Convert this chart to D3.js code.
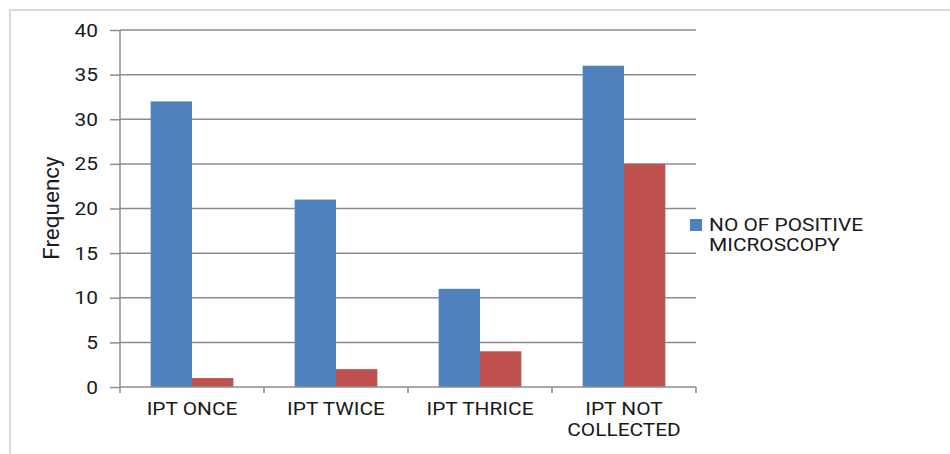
<!DOCTYPE html>
<html><head><meta charset="utf-8">
<script src="https://cdn.jsdelivr.net/npm/d3@7"></script>
<style>body{margin:0;background:#fff}svg{display:block}text{font-family:Roboto,"Liberation Sans",Arial,sans-serif;fill:#1a1a1a}</style>
</head><body>
<svg id="c" width="950" height="454"></svg>
<script>
const categories = [["IPT ONCE"],["IPT TWICE"],["IPT THRICE"],["IPT NOT","COLLECTED"]];
const catKeys = ["IPT ONCE","IPT TWICE","IPT THRICE","IPT NOT COLLECTED"];
const seriesNames = ["NO OF POSITIVE MICROSCOPY", "Series 2"];
const positive = [32, 21, 11, 36];
const second = [1, 2, 4, 25];
const yTicks = [0,5,10,15,20,25,30,35,40];
const colors = ["#4F81BD", "#C0504D"];
const SX = 1.16;

const svg = d3.select("#c");
svg.append("rect").attr("x",10).attr("y",10).attr("width",960).attr("height",460)
  .attr("fill","none").attr("stroke","#d9d9d9").attr("stroke-width",2);

const L=120, R=696, T=30, B=387;
const x0 = d3.scaleBand().domain(catKeys).range([L,R]).padding(0);
const gap = x0.bandwidth()*0.213;
const x1 = d3.scaleBand().domain([0,1]).range([gap, x0.bandwidth()-gap]).padding(0);
const y = d3.scaleLinear().domain([0,40]).range([B,T]);

// stretched text helper
function stext(parent, x, yy, lines, anchor, size, lh){
  const g=parent.append("g").attr("transform",`translate(${x},${yy}) scale(${SX},1)`);
  const t=g.append("text").attr("text-anchor",anchor).attr("font-size",size);
  lines.forEach((ln,j)=>t.append("tspan").attr("x",0).attr("dy",j?lh:0).text(ln));
  return g;
}

// gridlines
svg.append("g").selectAll("line").data(yTicks.filter(d=>d>0)).join("line")
  .attr("x1",L).attr("x2",R).attr("y1",d=>y(d)).attr("y2",d=>y(d))
  .attr("stroke","#8c8c8c").attr("stroke-width",1.5);

// bars
const vals=[positive, second];
catKeys.forEach((c,i)=>{
  [0,1].forEach(s=>{
    svg.append("rect").attr("x",x0(c)+x1(s)).attr("width",x1.bandwidth())
      .attr("y",y(vals[s][i])).attr("height",y(0)-y(vals[s][i])).attr("fill",colors[s]);
  });
});

// y axis
const yAxis = d3.axisLeft(y).tickValues(yTicks).tickSize(10).tickFormat("");
const gy = svg.append("g").attr("transform",`translate(${L},0)`).call(yAxis);
gy.select(".domain").attr("stroke","#8c8c8c").attr("stroke-width",1.5).attr("d",`M0,${B}V${T}`);
gy.selectAll(".tick line").attr("stroke","#8c8c8c").attr("stroke-width",1.5);
yTicks.forEach(v=>stext(svg, 98, y(v)+6.5, [String(v)], "end", 18, 0));

// x axis
const xAxis = d3.axisBottom(x0).tickSize(0).tickFormat("");
const gx = svg.append("g").attr("transform",`translate(0,${B})`).call(xAxis);
gx.select(".domain").attr("stroke","#8c8c8c").attr("stroke-width",1.5).attr("d",`M${L},0H${R}`);
const bounds=[L, ...catKeys.map(c=>x0(c)+x0.bandwidth())];
gx.selectAll(".bt").data(bounds).join("line").attr("class","bt")
  .attr("x1",d=>d).attr("x2",d=>d).attr("y1",0).attr("y2",6).attr("stroke","#8c8c8c").attr("stroke-width",1.5);
catKeys.forEach((c,i)=>stext(svg, x0(c)+x0.bandwidth()/2, 415, categories[i], "middle", 18, 21));

// y label
svg.append("text").attr("transform","translate(59,208) rotate(-90)").attr("text-anchor","middle")
  .attr("font-size",22.5).text("Frequency");

// legend
svg.append("rect").attr("x",690).attr("y",219).attr("width",12).attr("height",12).attr("fill",colors[0]);
stext(svg, 709, 231, ["NO OF POSITIVE","MICROSCOPY"], "start", 18, 20);
</script>
</body></html>
